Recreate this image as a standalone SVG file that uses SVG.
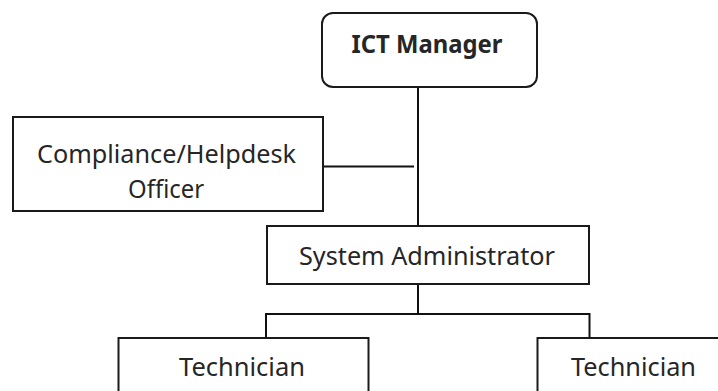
<svg xmlns="http://www.w3.org/2000/svg" width="718" height="391" viewBox="0 0 718 391">
  <style>
    .box { fill: #ffffff; stroke: #1a1a1a; stroke-width: 2; }
    .link { fill: none; stroke: #111111; stroke-width: 2; }
    .label { font-family: "Noto Sans", "Open Sans", sans-serif; font-size: 25px; fill: #262626; text-anchor: middle; }
    .bold { font-weight: bold; }
  </style>
  <rect width="718" height="391" fill="#ffffff"/>

  <g id="connectors">
    <path class="link" d="M418 87 V226"/>
    <path class="link" d="M323 166.5 H414"/>
    <path class="link" d="M418 284 V314"/>
    <path class="link" d="M266 338 V314 H589.5 V338"/>
  </g>

  <g id="ict-manager">
    <rect class="box" x="322" y="13" width="215" height="74" rx="11" ry="11"/>
    <text class="label bold" x="427" y="53" textLength="151" lengthAdjust="spacingAndGlyphs">ICT Manager</text>
  </g>

  <g id="compliance-officer">
    <rect class="box" x="13" y="117" width="310" height="94"/>
    <text class="label" x="166.5" y="163" textLength="259" lengthAdjust="spacingAndGlyphs">Compliance/Helpdesk</text>
    <text class="label" x="166" y="197.5" textLength="76" lengthAdjust="spacingAndGlyphs">Officer</text>
  </g>

  <g id="system-administrator">
    <rect class="box" x="267" y="226" width="322" height="58"/>
    <text class="label" x="427" y="265" textLength="256" lengthAdjust="spacingAndGlyphs">System Administrator</text>
  </g>

  <g id="technician-left">
    <rect class="box" x="118.5" y="338" width="250" height="70"/>
    <text class="label" x="242" y="376" textLength="126" lengthAdjust="spacingAndGlyphs">Technician</text>
  </g>

  <g id="technician-right">
    <rect class="box" x="537.5" y="338" width="200" height="70"/>
    <text class="label" x="633.5" y="376" textLength="125" lengthAdjust="spacingAndGlyphs">Technician</text>
  </g>
</svg>
